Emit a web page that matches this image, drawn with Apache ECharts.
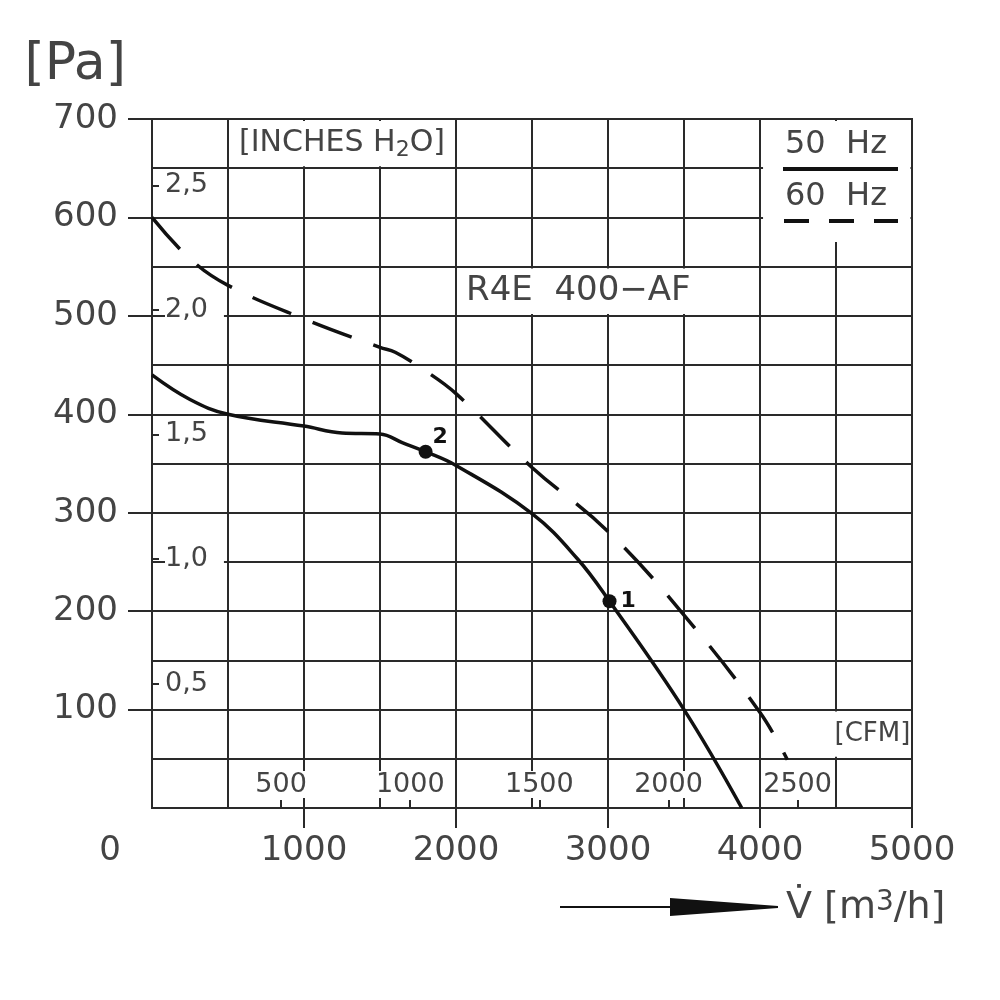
<!DOCTYPE html>
<html lang="de">
<head>
<meta charset="UTF-8">
<title>R4E 400-AF Kennlinie</title>
<script src="https://cdn.jsdelivr.net/npm/echarts@6/dist/echarts.min.js"></script>
<style>
    html, body { margin: 0; padding: 0; background: #fff; }
    #chart { width: 1000px; height: 1000px; }
</style>
</head>
<body>
<div id="chart"></div>
<script>
    // Kennlinien: Volumenstrom [m3/h] / statischer Druck [Pa]
    const flow50 = [0, 250, 500, 1000, 1250, 1500, 1650, 1800, 2000, 2500, 2800, 3010, 3500, 3880];
    const press50 = [440, 415, 400, 388, 381, 380, 371, 362, 348, 299, 253, 210, 100, 0];
    const flow60 = [0, 250, 500, 1000, 1500, 1600, 1800, 2000, 2500, 3000, 3500, 4000, 4180];
    const press60 = [600, 558, 531, 497, 468, 463, 444, 421, 346, 281, 196, 97, 49];

    // Betriebspunkte
    const pointNames = ['2', '1'];
    const pointFlow = [1800, 3010];
    const pointPress = [362, 210];

    // Achsen
    const flowTicks = [0, 1000, 2000, 3000, 4000, 5000];
    const pressTicks = [0, 100, 200, 300, 400, 500, 600, 700];
    const M3H_PER_CFM = 1.699;
    const PA_PER_INCH = 253;   // so wie die Zoll-Skala gezeichnet ist

    const FONT = 'DejaVu Sans';
    const INK = '#444';
    const LINE = '#2a2a2a';
    const PEN = '#111';

    const zip = (xs, ys) => xs.map((x, i) => [x, ys[i]]);
    const onStep = (v, step) => v > 0 && Math.abs(v / step - Math.round(v / step)) < 1e-6;

    const chart = echarts.init(document.getElementById('chart'));

    const gridLine = { show: true, lineStyle: { color: LINE, width: 2 } };
    const off = { show: false };

    // weisse Felder fuer die Beschriftungen im Raster
    const box = (name, x0, x1, y0, y1, label) => [
        { name: name, xAxis: x0, yAxis: y0, label: label },
        { xAxis: x1, yAxis: y1 }
    ];

    const option = {
        animation: false,
        backgroundColor: '#fff',
        textStyle: { fontFamily: FONT, color: INK },
        grid: {
            left: 152, top: 119, right: 88, bottom: 192,
            show: true, borderColor: LINE, borderWidth: 2, backgroundColor: 'transparent'
        },
        xAxis: [
            {
                type: 'value', position: 'bottom', min: 0, max: 5000, interval: 500, z: 0,
                axisLine: off, axisTick: off, axisLabel: off, splitLine: gridLine
            },
            {
                type: 'value', position: 'bottom', min: 0, max: 5000, interval: 1000, z: 1,
                axisLine: off, splitLine: off,
                axisTick: {
                    show: true, length: 20, customValues: flowTicks.slice(1),
                    lineStyle: { color: LINE, width: 2 }
                },
                axisLabel: {
                    margin: 26, fontSize: 34, color: INK, fontFamily: FONT,
                    formatter: v => v === 0 ? '{o|0}' : String(v),
                    rich: { o: { fontSize: 34, fontFamily: FONT, color: INK, padding: [0, 84, 0, 0] } }
                }
            },
            {
                type: 'value', position: 'bottom', min: 0, max: 5000 / M3H_PER_CFM, interval: 500, z: 2,
                axisLine: off, splitLine: off,
                axisTick: { show: true, inside: true, length: 8, lineStyle: { color: LINE, width: 2 } },
                axisLabel: {
                    inside: true, margin: 10, fontSize: 27, color: INK, fontFamily: FONT,
                    backgroundColor: '#fff', padding: [0, 2, 0, 2],
                    formatter: v => onStep(v, 500) ? String(Math.round(v)) : ''
                }
            }
        ],
        yAxis: [
            {
                type: 'value', position: 'left', min: 0, max: 700, interval: 50, z: 0,
                axisLine: off, axisTick: off, axisLabel: off, splitLine: gridLine
            },
            {
                type: 'value', position: 'left', min: 0, max: 700, interval: 100, z: 1,
                axisLine: off, splitLine: off,
                name: '[Pa]', nameLocation: 'end', nameGap: 28,
                nameTextStyle: {
                    fontSize: 52, fontFamily: FONT, color: INK,
                    align: 'right', verticalAlign: 'bottom', padding: [0, 26, 0, 0]
                },
                axisTick: {
                    show: true, length: 24, customValues: pressTicks.slice(1),
                    lineStyle: { color: LINE, width: 2 }
                },
                axisLabel: {
                    margin: 34, fontSize: 34, color: INK, fontFamily: FONT,
                    formatter: v => v === 0 ? '' : String(v)
                }
            },
            {
                type: 'value', position: 'left', min: 0, max: 700 / PA_PER_INCH, interval: 0.5, z: 2,
                axisLine: off, splitLine: off,
                axisTick: { show: true, inside: true, length: 7, lineStyle: { color: LINE, width: 2 } },
                axisLabel: {
                    inside: true, margin: 13, fontSize: 27, color: INK, fontFamily: FONT,
                    backgroundColor: '#fff', padding: [0, 16, 0, 0],
                    formatter: v => onStep(v, 0.5) ? v.toFixed(1).replace('.', ',') : ''
                }
            }
        ],
        series: [
            {
                name: 'Felder', type: 'scatter', data: [], z: 3, silent: true,
                markArea: {
                    silent: true,
                    itemStyle: { color: '#fff' },
                    label: { show: true, position: 'inside', color: INK, fontFamily: FONT },
                    data: [
                        box('inch', 510, 1990, 652, 698, {
                            fontSize: 30, formatter: '[INCHES H{s|2}O]',
                            rich: { s: { fontSize: 22, fontFamily: FONT, color: INK, verticalAlign: 'bottom', padding: [14, 0, 0, 0] } }
                        }),
                        box('type', 2010, 3600, 502, 548, { fontSize: 34, formatter: 'R4E  400\u2212AF' }),
                        box('cfm', 4490, 4990, 52, 98, { fontSize: 26, formatter: '[CFM]' }),
                        box('legend', 4020, 4990, 575, 698, { show: false })
                    ]
                }
            },
            {
                name: '50 Hz', type: 'line', data: zip(flow50, press50), z: 5,
                smooth: 0.4, symbol: 'none',
                lineStyle: { color: PEN, width: 3.5 }
            },
            {
                name: '60 Hz', type: 'line', data: zip(flow60, press60), z: 5,
                smooth: 0.4, symbol: 'none',
                lineStyle: { color: PEN, width: 3.5, type: [42, 23] }
            },
            {
                name: 'Punkte', type: 'scatter', z: 6,
                data: pointFlow.map((x, i) => ({ value: [x, pointPress[i]], name: pointNames[i] })),
                symbolSize: 14,
                itemStyle: { color: PEN, opacity: 1 },
                label: {
                    show: true, formatter: '{b}', position: 'right', distance: 4,
                    fontSize: 22, fontWeight: 'bold', fontFamily: FONT, color: PEN,
                    offset: [0, -6]
                },
                labelLayout: p => p.dataIndex === 0 ? { dy: -14, dx: -4 } : {}
            }
        ],
        graphic: [
            { type: 'text', z: 10, style: { x: 785, y: 145, text: '50  Hz', font: '32px "DejaVu Sans"', fill: INK, verticalAlign: 'middle' } },
            { type: 'line', z: 10, shape: { x1: 783, y1: 169, x2: 898, y2: 169 }, style: { stroke: PEN, lineWidth: 4 } },
            { type: 'text', z: 10, style: { x: 785, y: 197, text: '60  Hz', font: '32px "DejaVu Sans"', fill: INK, verticalAlign: 'middle' } },
            { type: 'line', z: 10, shape: { x1: 784, y1: 221, x2: 898, y2: 221 }, style: { stroke: PEN, lineWidth: 4, lineDash: [25, 20] } },
            // Pfeil und Achsentitel
            { type: 'line', z: 10, shape: { x1: 560, y1: 907, x2: 672, y2: 907 }, style: { stroke: PEN, lineWidth: 2 } },
            { type: 'polygon', z: 10, shape: { points: [[670, 898], [778, 906], [778, 908], [670, 916]] }, style: { fill: PEN } },
            {
                type: 'text', z: 10,
                style: {
                    x: 786, y: 908, verticalAlign: 'middle',
                    text: 'V\u0307 [m{s|3}/h]', font: '38px "DejaVu Sans"', fill: INK,
                    rich: { s: { font: '28px "DejaVu Sans"', fill: INK, verticalAlign: 'top' } }
                }
            }
        ]
    };

    chart.setOption(option);
    window.addEventListener('resize', () => chart.resize());
</script>
</body>
</html>
